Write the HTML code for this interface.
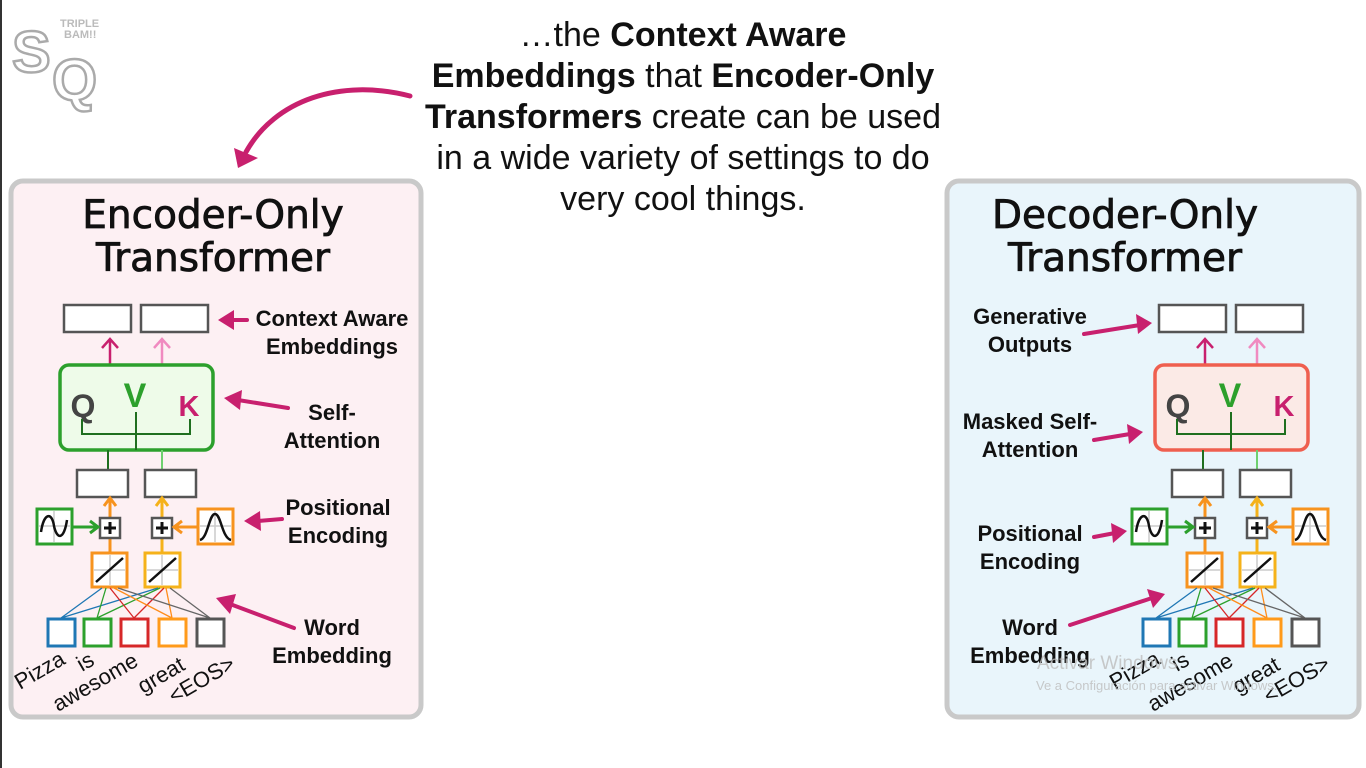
<!DOCTYPE html>
<html><head><meta charset="utf-8"><style>
html,body{margin:0;padding:0;background:#fff;width:1366px;height:768px;overflow:hidden}
svg{display:block}
text{font-family:"Liberation Sans",Arial,sans-serif}
.b{font-weight:bold}
.t{font-family:"DejaVu Sans","Liberation Sans",sans-serif;font-size:39px;fill:#111;stroke:#111;stroke-width:0.8}
</style></head><body>
<svg width="1366" height="768" viewBox="0 0 1366 768" xmlns="http://www.w3.org/2000/svg">
<rect x="0" y="0" width="1366" height="768" fill="#fff"/>
<line x1="1" y1="0" x2="1" y2="768" stroke="#333" stroke-width="2"/>
<text x="12" y="72" font-size="58" font-weight="bold" fill="#fff" stroke="#aaa" stroke-width="2.5">S</text>
<text x="52" y="100" font-size="58" font-weight="bold" fill="#fff" stroke="#aaa" stroke-width="2.5">Q</text>
<text x="60" y="27" font-size="11" font-weight="bold" fill="#bbb">TRIPLE</text>
<text x="64" y="38" font-size="11" font-weight="bold" fill="#bbb">BAM!!</text>
<g font-size="34" text-anchor="middle" fill="#111">
<text x="683" y="46">…the <tspan class="b">Context Aware</tspan></text>
<text x="683" y="87"><tspan class="b">Embeddings</tspan> that <tspan class="b">Encoder-Only</tspan></text>
<text x="683" y="128"><tspan class="b">Transformers</tspan> create can be used</text>
<text x="683" y="169">in a wide variety of settings to do</text>
<text x="683" y="210">very cool things.</text>
</g>
<path d="M410,96 C340,78 275,100 246,152" fill="none" stroke="#c8206e" stroke-width="5" stroke-linecap="round"/>
<path d="M234,148 L258,158 L238,168 z" fill="#c8206e"/>
<rect x="11" y="181" width="410" height="536" rx="12" fill="#fdf0f3" stroke="#c9c9c9" stroke-width="5"/>
<rect x="947" y="181" width="412" height="536" rx="12" fill="#e9f5fb" stroke="#c9c9c9" stroke-width="5"/>
<text class="t" x="213" y="228" text-anchor="middle">Encoder-Only</text>
<text class="t" x="213" y="271" text-anchor="middle">Transformer</text>
<text class="t" x="1125" y="228" text-anchor="middle">Decoder-Only</text>
<text class="t" x="1125" y="271" text-anchor="middle">Transformer</text>

<g>
<rect x="64" y="305" width="67" height="27" fill="#fff" stroke="#555" stroke-width="2.5"/>
<rect x="141" y="305" width="67" height="27" fill="#fff" stroke="#555" stroke-width="2.5"/>
<g fill="none" stroke-width="2.5">
<path d="M110,364 V340 M102,348 L110,339 L118,348" stroke="#c8206e"/>
<path d="M162,364 V340 M154,348 L162,339 L170,348" stroke="#f08ac0"/>
</g>
<rect x="60" y="365" width="153" height="85" rx="9" fill="#eefbe9" stroke="#2ca02c" stroke-width="3.5"/>
<text x="83" y="417" font-size="32" font-weight="bold" fill="#444" text-anchor="middle">Q</text>
<text x="135" y="407" font-size="34" font-weight="bold" fill="#2ca02c" text-anchor="middle">V</text>
<text x="189" y="416" font-size="29" font-weight="bold" fill="#c8206e" text-anchor="middle">K</text>
<path d="M82,419 V434 H190 V419 M136,412 V450" fill="none" stroke="#1f6f1f" stroke-width="2"/>
<line x1="108" y1="450" x2="108" y2="470" stroke="#1f6f1f" stroke-width="2"/>
<line x1="162" y1="450" x2="162" y2="470" stroke="#6fd06f" stroke-width="2"/>
<rect x="77" y="470" width="51" height="27" fill="#fff" stroke="#555" stroke-width="2.5"/>
<rect x="145" y="470" width="51" height="27" fill="#fff" stroke="#555" stroke-width="2.5"/>
<path d="M110,518 V500 M104,506 L110,498 L116,506" fill="none" stroke="#f7931e" stroke-width="3"/>
<path d="M162,518 V500 M156,506 L162,498 L168,506" fill="none" stroke="#f5b21a" stroke-width="3"/>
<line x1="110" y1="539" x2="110" y2="553" stroke="#f7931e" stroke-width="3"/>
<line x1="162" y1="539" x2="162" y2="553" stroke="#f5b21a" stroke-width="3"/>
<rect x="100" y="518" width="20" height="20" fill="#fff" stroke="#555" stroke-width="2.5"/>
<path d="M104,528 H116 M110,522 V534" stroke="#111" stroke-width="3"/>
<rect x="152" y="518" width="20" height="20" fill="#fff" stroke="#555" stroke-width="2.5"/>
<path d="M156,528 H168 M162,522 V534" stroke="#111" stroke-width="3"/>
<rect x="37" y="509" width="35" height="35" fill="#fff" stroke="#2ca02c" stroke-width="3"/>
<path d="M54,511 V542 M39,526 H70" stroke="#ccc" stroke-width="1.5"/>
<path d="M41,532 C44,512 52,512 54,526 C57,540 64,540 67,520" fill="none" stroke="#111" stroke-width="2.5"/>
<path d="M72,527 H96 M90,521 L98,527 L90,533" fill="none" stroke="#2ca02c" stroke-width="3"/>
<rect x="198" y="509" width="35" height="35" fill="#fff" stroke="#f7931e" stroke-width="3"/>
<path d="M215,511 V542 M200,526 H231" stroke="#ccc" stroke-width="1.5"/>
<path d="M200,540 C208,538 209,514 215,514 C221,514 222,538 231,540" fill="none" stroke="#111" stroke-width="2.5"/>
<path d="M198,527 H176 M182,521 L174,527 L182,533" fill="none" stroke="#f7931e" stroke-width="3"/>
<rect x="92" y="553" width="35" height="34" fill="#fff" stroke="#f7931e" stroke-width="3"/>
<rect x="145" y="553" width="35" height="34" fill="#fff" stroke="#f5b21a" stroke-width="3"/>
<path d="M110,555 V585 M94,570 H125 M162,555 V585 M147,570 H178" stroke="#ccc" stroke-width="1.5"/>
<path d="M96,582 L123,558 M149,582 L176,558" stroke="#111" stroke-width="2.5"/>
<g stroke-width="1.3" fill="none">
<path d="M61,618 L102,588 M61,618 L158,588" stroke="#1f77b4"/>
<path d="M97,618 L106,588 M97,618 L160,588" stroke="#2ca02c"/>
<path d="M134,618 L110,588 M134,618 L164,588" stroke="#d62728"/>
<path d="M172,618 L114,588 M172,618 L166,588" stroke="#ff8c1a"/>
<path d="M210,618 L118,588 M210,618 L170,588" stroke="#666"/>
</g>
<rect x="48" y="619" width="27" height="27" fill="#fff" stroke="#1f77b4" stroke-width="3"/>
<rect x="84" y="619" width="27" height="27" fill="#fff" stroke="#2ca02c" stroke-width="3"/>
<rect x="121" y="619" width="27" height="27" fill="#fff" stroke="#d62728" stroke-width="3"/>
<rect x="159" y="619" width="27" height="27" fill="#fff" stroke="#ff9a1a" stroke-width="3"/>
<rect x="197" y="619" width="27" height="27" fill="#fff" stroke="#555" stroke-width="3"/>
<g font-size="22" fill="#111">
<text transform="translate(20,690) rotate(-30)">Pizza</text>
<text transform="translate(82,672) rotate(-30)">is</text>
<text transform="translate(58,712) rotate(-30)">awesome</text>
<text transform="translate(143,694) rotate(-30)">great</text>
<text transform="translate(174,704) rotate(-30)">&lt;EOS&gt;</text>
</g>
</g>

<g transform="translate(1095,0)">
<rect x="64" y="305" width="67" height="27" fill="#fff" stroke="#555" stroke-width="2.5"/>
<rect x="141" y="305" width="67" height="27" fill="#fff" stroke="#555" stroke-width="2.5"/>
<g fill="none" stroke-width="2.5">
<path d="M110,364 V340 M102,348 L110,339 L118,348" stroke="#c8206e"/>
<path d="M162,364 V340 M154,348 L162,339 L170,348" stroke="#f08ac0"/>
</g>
<rect x="60" y="365" width="153" height="85" rx="9" fill="#fbeae6" stroke="#ef5f4f" stroke-width="3.5"/>
<text x="83" y="417" font-size="32" font-weight="bold" fill="#444" text-anchor="middle">Q</text>
<text x="135" y="407" font-size="34" font-weight="bold" fill="#2ca02c" text-anchor="middle">V</text>
<text x="189" y="416" font-size="29" font-weight="bold" fill="#c8206e" text-anchor="middle">K</text>
<path d="M82,419 V434 H190 V419 M136,412 V450" fill="none" stroke="#1f6f1f" stroke-width="2"/>
<line x1="108" y1="450" x2="108" y2="470" stroke="#1f6f1f" stroke-width="2"/>
<line x1="162" y1="450" x2="162" y2="470" stroke="#6fd06f" stroke-width="2"/>
<rect x="77" y="470" width="51" height="27" fill="#fff" stroke="#555" stroke-width="2.5"/>
<rect x="145" y="470" width="51" height="27" fill="#fff" stroke="#555" stroke-width="2.5"/>
<path d="M110,518 V500 M104,506 L110,498 L116,506" fill="none" stroke="#f7931e" stroke-width="3"/>
<path d="M162,518 V500 M156,506 L162,498 L168,506" fill="none" stroke="#f5b21a" stroke-width="3"/>
<line x1="110" y1="539" x2="110" y2="553" stroke="#f7931e" stroke-width="3"/>
<line x1="162" y1="539" x2="162" y2="553" stroke="#f5b21a" stroke-width="3"/>
<rect x="100" y="518" width="20" height="20" fill="#fff" stroke="#555" stroke-width="2.5"/>
<path d="M104,528 H116 M110,522 V534" stroke="#111" stroke-width="3"/>
<rect x="152" y="518" width="20" height="20" fill="#fff" stroke="#555" stroke-width="2.5"/>
<path d="M156,528 H168 M162,522 V534" stroke="#111" stroke-width="3"/>
<rect x="37" y="509" width="35" height="35" fill="#fff" stroke="#2ca02c" stroke-width="3"/>
<path d="M54,511 V542 M39,526 H70" stroke="#ccc" stroke-width="1.5"/>
<path d="M41,532 C44,512 52,512 54,526 C57,540 64,540 67,520" fill="none" stroke="#111" stroke-width="2.5"/>
<path d="M72,527 H96 M90,521 L98,527 L90,533" fill="none" stroke="#2ca02c" stroke-width="3"/>
<rect x="198" y="509" width="35" height="35" fill="#fff" stroke="#f7931e" stroke-width="3"/>
<path d="M215,511 V542 M200,526 H231" stroke="#ccc" stroke-width="1.5"/>
<path d="M200,540 C208,538 209,514 215,514 C221,514 222,538 231,540" fill="none" stroke="#111" stroke-width="2.5"/>
<path d="M198,527 H176 M182,521 L174,527 L182,533" fill="none" stroke="#f7931e" stroke-width="3"/>
<rect x="92" y="553" width="35" height="34" fill="#fff" stroke="#f7931e" stroke-width="3"/>
<rect x="145" y="553" width="35" height="34" fill="#fff" stroke="#f5b21a" stroke-width="3"/>
<path d="M110,555 V585 M94,570 H125 M162,555 V585 M147,570 H178" stroke="#ccc" stroke-width="1.5"/>
<path d="M96,582 L123,558 M149,582 L176,558" stroke="#111" stroke-width="2.5"/>
<g stroke-width="1.3" fill="none">
<path d="M61,618 L102,588 M61,618 L158,588" stroke="#1f77b4"/>
<path d="M97,618 L106,588 M97,618 L160,588" stroke="#2ca02c"/>
<path d="M134,618 L110,588 M134,618 L164,588" stroke="#d62728"/>
<path d="M172,618 L114,588 M172,618 L166,588" stroke="#ff8c1a"/>
<path d="M210,618 L118,588 M210,618 L170,588" stroke="#666"/>
</g>
<rect x="48" y="619" width="27" height="27" fill="#fff" stroke="#1f77b4" stroke-width="3"/>
<rect x="84" y="619" width="27" height="27" fill="#fff" stroke="#2ca02c" stroke-width="3"/>
<rect x="121" y="619" width="27" height="27" fill="#fff" stroke="#d62728" stroke-width="3"/>
<rect x="159" y="619" width="27" height="27" fill="#fff" stroke="#ff9a1a" stroke-width="3"/>
<rect x="197" y="619" width="27" height="27" fill="#fff" stroke="#555" stroke-width="3"/>
<g font-size="22" fill="#111">
<text transform="translate(20,690) rotate(-30)">Pizza</text>
<text transform="translate(82,672) rotate(-30)">is</text>
<text transform="translate(58,712) rotate(-30)">awesome</text>
<text transform="translate(143,694) rotate(-30)">great</text>
<text transform="translate(174,704) rotate(-30)">&lt;EOS&gt;</text>
</g>
</g>

<g font-size="22" font-weight="bold" fill="#111" text-anchor="middle">
<text x="332" y="326">Context Aware</text>
<text x="332" y="354">Embeddings</text>
<text x="332" y="420">Self-</text>
<text x="332" y="448">Attention</text>
<text x="338" y="515">Positional</text>
<text x="338" y="543">Encoding</text>
<text x="332" y="635">Word</text>
<text x="332" y="663">Embedding</text>
<text x="1030" y="324">Generative</text>
<text x="1030" y="352">Outputs</text>
<text x="1030" y="429">Masked Self-</text>
<text x="1030" y="457">Attention</text>
<text x="1030" y="541">Positional</text>
<text x="1030" y="569">Encoding</text>
<text x="1030" y="635">Word</text>
<text x="1030" y="663">Embedding</text>
</g>
<g stroke="#c8206e" stroke-width="4" fill="none" stroke-linecap="round">
<path d="M247,320 H228"/>
<path d="M288,408 L238,400"/>
<path d="M282,519 L258,521"/>
<path d="M294,628 L230,604"/>
<path d="M1084,334 L1140,325"/>
<path d="M1094,440 L1130,434"/>
<path d="M1094,537 L1115,533"/>
<path d="M1070,625 L1152,598"/>
</g>
<g fill="#c8206e">
<path d="M218,320 L234,310 L234,330 z"/>
<path d="M224,398 L242,390 L240,410 z"/>
<path d="M244,521 L260,511 L261,531 z"/>
<path d="M216,598 L236,594 L230,614 z"/>
<path d="M1152,323 L1136,314 L1138,334 z"/>
<path d="M1143,432 L1127,424 L1129,444 z"/>
<path d="M1127,531 L1111,523 L1113,543 z"/>
<path d="M1165,594 L1147,589 L1153,608 z"/>
</g>
<text x="1037" y="669" font-size="19" fill="#bdbdbd" fill-opacity="0.8">Activar Windows</text>
<text x="1036" y="690" font-size="13" fill="#bdbdbd" fill-opacity="0.8">Ve a Configuración para activar Windows.</text>
</svg>
</body></html>
